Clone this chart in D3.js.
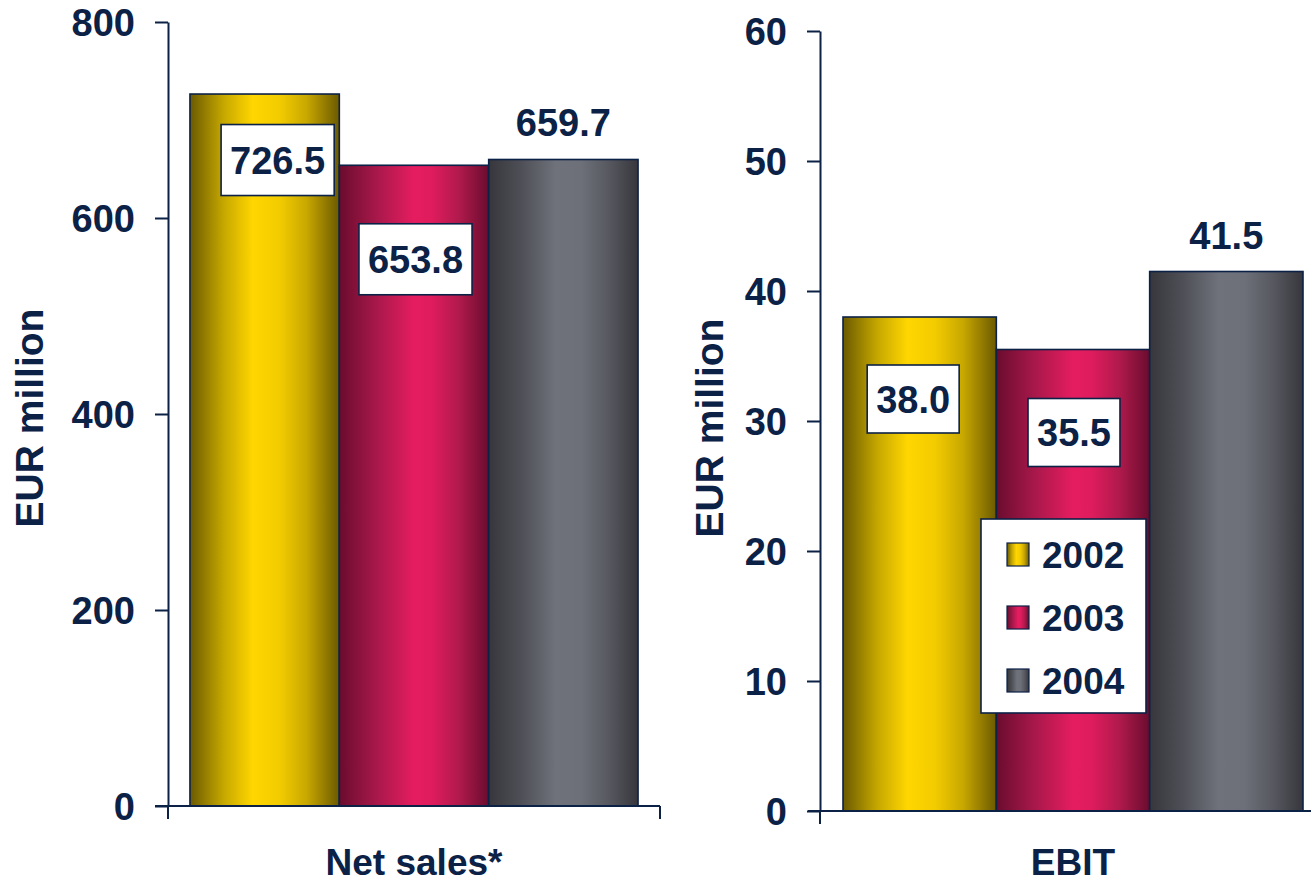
<!DOCTYPE html>
<html>
<head>
<meta charset="utf-8">
<script src="https://cdn.jsdelivr.net/npm/d3@7"></script>
<style>
  body { margin: 0; background: #fff; }
  svg { display: block; }
  text { font-family: "Liberation Sans", Arial, Helvetica, sans-serif; font-weight: bold; fill: #0c2146; }
</style>
</head>
<body>
<svg id="chart" width="1311" height="884"></svg>
<script>
// ---- data ----
const years = ["2002", "2003", "2004"];
const netSales = [726.5, 653.8, 659.7];
const ebit = [38.0, 35.5, 41.5];
const netSalesTicks = [0, 200, 400, 600, 800];
const ebitTicks = [0, 10, 20, 30, 40, 50, 60];
const panelTitles = ["Net sales*", "EBIT"];
const axisTitle = "EUR million";

// ---- styling ----
const ink = "#0c2146";
const seriesStops = {
  "2002": [[0, "#6b5a00"], [0.22, "#c4a600"], [0.42, "#ffd600"], [0.6, "#f3cc00"], [0.78, "#c9a800"], [1, "#6b5a00"]],
  "2003": [[0, "#6a0c2e"], [0.25, "#a8184a"], [0.5, "#e51d60"], [0.62, "#df1c5d"], [0.8, "#b01a4c"], [1, "#6a0c2e"]],
  "2004": [[0, "#36363c"], [0.22, "#4f5057"], [0.45, "#6f727b"], [0.62, "#6d7079"], [0.82, "#55565d"], [1, "#36363c"]]
};

const svg = d3.select("#chart");
const defs = svg.append("defs");
years.forEach(y => {
  const g = defs.append("linearGradient")
    .attr("id", "grad" + y)
    .attr("x1", 0).attr("x2", 1).attr("y1", 0).attr("y2", 0);
  seriesStops[y].forEach(([o, c]) => g.append("stop").attr("offset", o).attr("stop-color", c));
});

// Panel layout (pixel frame of each plot) and value-label placement
const panels = [
  {
    values: netSales, ticks: netSalesTicks, max: 800, title: panelTitles[0],
    x0: 168, x1: 660, yTop: 22, yZero: 806, pad: 0.147,
    xAxisStart: 155, axisTitleX: 29, axisTitleY: 418,
    labels: [
      { boxed: true, dx: 13, dy: 66 },
      { boxed: true, dx: 1.5, dy: 94 },
      { boxed: false, dx: 0, dy: -23 }
    ]
  },
  {
    values: ebit, ticks: ebitTicks, max: 60, title: panelTitles[1],
    x0: 820, x1: 1326, yTop: 31, yZero: 811, pad: 0.15,
    xAxisStart: 808, axisTitleX: 709, axisTitleY: 428,
    labels: [
      { boxed: true, dx: -6.5, dy: 82 },
      { boxed: true, dx: 1, dy: 83 },
      { boxed: false, dx: 0, dy: -23 }
    ]
  }
];

panels.forEach(p => {
  const g = svg.append("g");
  const x = d3.scaleBand().domain(years).range([p.x0, p.x1]).paddingInner(0).paddingOuter(p.pad);
  const y = d3.scaleLinear().domain([0, p.max]).range([p.yZero, p.yTop]);

  // bars
  g.selectAll("rect.bar").data(years).join("rect")
    .attr("class", "bar")
    .attr("x", d => x(d))
    .attr("width", x.bandwidth())
    .attr("y", (d, i) => y(p.values[i]))
    .attr("height", (d, i) => y(0) - y(p.values[i]))
    .attr("fill", d => `url(#grad${d})`)
    .attr("stroke", ink)
    .attr("stroke-width", 1.6);

  // y axis
  const ax = g.append("g")
    .attr("transform", `translate(${p.x0},0)`)
    .call(d3.axisLeft(y).tickValues(p.ticks).tickSize(13).tickSizeOuter(0).tickPadding(20).tickFormat(d3.format("d")));
  ax.attr("font-family", null);
  ax.select(".domain").attr("stroke", ink).attr("stroke-width", 2);
  ax.selectAll(".tick line").attr("stroke", ink).attr("stroke-width", 2);
  ax.selectAll(".tick text").attr("fill", ink).attr("font-size", 38).attr("dy", "0.36em");

  // x axis baseline and category boundary ticks
  g.append("line")
    .attr("x1", p.xAxisStart).attr("x2", p.x1)
    .attr("y1", y(0)).attr("y2", y(0))
    .attr("stroke", ink).attr("stroke-width", 2);
  [p.x0, p.x1].forEach(xx => g.append("line")
    .attr("x1", xx).attr("x2", xx)
    .attr("y1", y(0)).attr("y2", y(0) + 13)
    .attr("stroke", ink).attr("stroke-width", 2));

  // category title
  g.append("text")
    .attr("x", (p.x0 + p.x1) / 2).attr("y", 875)
    .attr("text-anchor", "middle").attr("font-size", 37)
    .text(p.title);

  // axis title
  g.append("text")
    .attr("transform", `translate(${p.axisTitleX},${p.axisTitleY}) rotate(-90)`)
    .attr("text-anchor", "middle").attr("dy", "0.36em").attr("font-size", 39)
    .text(axisTitle);

  // value labels
  years.forEach((yr, i) => {
    const v = p.values[i];
    const L = p.labels[i];
    const cx = x(yr) + x.bandwidth() / 2 + L.dx;
    const top = y(v);
    const lg = g.append("g");
    if (L.boxed) {
      const t = lg.append("text")
        .attr("x", cx).attr("y", top + L.dy)
        .attr("text-anchor", "middle").attr("dy", "0.36em")
        .attr("font-size", 38)
        .text(v.toFixed(1));
      const bb = t.node().getBBox();
      const w = bb.width + 18, h = p.max > 100 ? 71 : 68;
      lg.insert("rect", "text")
        .attr("x", cx - w / 2).attr("y", top + L.dy - h / 2)
        .attr("width", w).attr("height", h)
        .attr("fill", "#fff").attr("stroke", ink).attr("stroke-width", 1.6);
    } else {
      lg.append("text")
        .attr("x", cx).attr("y", top + L.dy)
        .attr("text-anchor", "middle").attr("font-size", 38)
        .text(v.toFixed(1));
    }
  });
});

// legend inside the EBIT panel
const legend = svg.append("g").attr("transform", "translate(981,519)");
legend.append("rect")
  .attr("width", 165).attr("height", 194)
  .attr("fill", "#fff").attr("stroke", ink).attr("stroke-width", 1.6);
const rows = legend.selectAll("g.row").data(years).join("g")
  .attr("class", "row")
  .attr("transform", (d, i) => `translate(26,${24 + i * 63})`);
rows.append("rect")
  .attr("width", 22).attr("height", 23)
  .attr("fill", d => `url(#grad${d})`)
  .attr("stroke", ink).attr("stroke-width", 1.2);
rows.append("text")
  .attr("x", 35).attr("y", 11.5).attr("dy", "0.36em")
  .attr("font-size", 37)
  .text(d => d);
</script>
</body>
</html>
